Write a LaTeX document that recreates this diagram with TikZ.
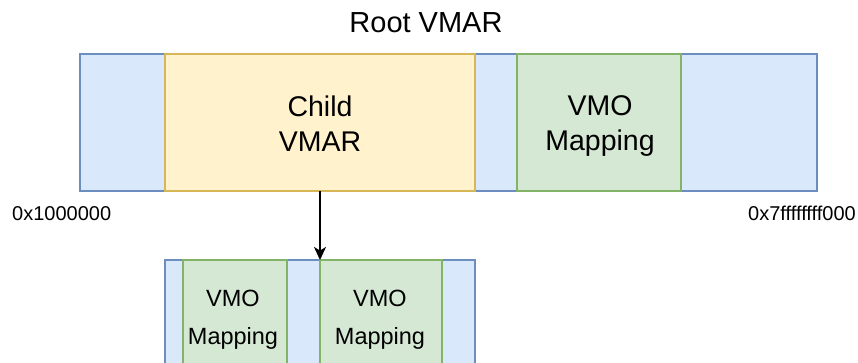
\documentclass[tikz,border=0pt]{standalone}
\usepackage{fontspec}
\setmainfont{Liberation Sans}
\usetikzlibrary{arrows.meta}
\definecolor{bluefill}{HTML}{DAE8FC}
\definecolor{bluedraw}{HTML}{6C8EBF}
\definecolor{yellowfill}{HTML}{FFF2CC}
\definecolor{yellowdraw}{HTML}{D6B656}
\definecolor{greenfill}{HTML}{D5E8D4}
\definecolor{greendraw}{HTML}{82B366}
\tikzset{
  region/.style={rectangle, line width=2.2pt, inner sep=0pt, outer sep=0pt, anchor=north west},
  bluebox/.style={region, fill=bluefill, draw=bluedraw},
  yellowbox/.style={region, fill=yellowfill, draw=yellowdraw},
  greenbox/.style={region, fill=greenfill, draw=greendraw},
  bigtext/.style={inner sep=0pt, align=center, font=\fontsize{28.5pt}{35pt}\selectfont},
  smalltext/.style={inner sep=0pt, align=center, font=\fontsize{23.5pt}{38pt}\selectfont},
  hextext/.style={inner sep=0pt, font=\fontsize{20pt}{24pt}\selectfont},
  arrowline/.style={line width=1.5pt, -{Stealth[length=13pt,width=12pt,inset=3.5pt]}}
}
\begin{document}
\begin{tikzpicture}[x=1pt,y=-1pt]
\clip (0,0) rectangle (858,363);
\fill[white] (0,0) rectangle (858,363);
% title
\node[inner sep=0pt, anchor=base, font=\fontsize{29pt}{35pt}\selectfont] (title) at (426,33) {Root VMAR};
% root VMAR
\node[bluebox, minimum width=737pt, minimum height=137pt] (root) at (80,54) {};
\node[yellowbox, minimum width=310pt, minimum height=137pt] (child) at (165,54) {};
\node[greenbox, minimum width=164pt, minimum height=137pt] (vmo) at (517,54) {};
\node[bigtext] (childlabel) at (320,124) {Child\\VMAR};
\node[bigtext] (vmolabel) at (600,126.5) {VMO\\Mapping};
% address labels
\node[hextext, anchor=base west] (startaddr) at (12,221) {0x1000000};
\node[hextext, anchor=base west] (endaddr) at (748,221) {0x7ffffffff000};
% child VMAR expanded
\node[bluebox, minimum width=310pt, minimum height=112pt] (childvmar) at (165,260) {};
\node[greenbox, minimum width=104pt, minimum height=112pt] (map1) at (183,260) {};
\node[greenbox, minimum width=122pt, minimum height=112pt] (map2) at (320,260) {};
\node[smalltext] (map1label) at (233,319.5) {VMO\\Mapping};
\node[smalltext] (map2label) at (380,319.5) {VMO\\Mapping};
% connector
\draw[arrowline] (child.south) -- (map2.north west);
\end{tikzpicture}
\end{document}
